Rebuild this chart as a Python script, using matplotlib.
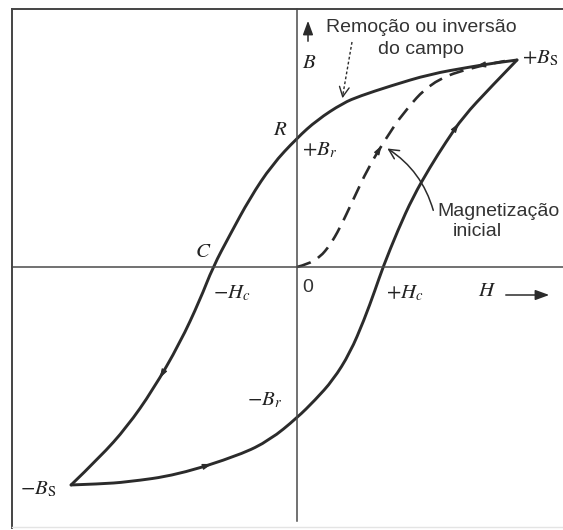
import numpy as np
import matplotlib
matplotlib.use('Agg')
import matplotlib.pyplot as plt
from matplotlib.lines import Line2D
from matplotlib.path import Path
from matplotlib.patches import PathPatch, FancyArrowPatch

plt.rcParams['mathtext.fontset'] = 'stix'
plt.rcParams['font.family'] = ['Liberation Sans', 'DejaVu Sans']

# hysteresis loop, H and B scaled so that +Bs sits at (1, 1)
# branch coming down from +Bs (field removed / reversed)
desc_H = [1.000, 0.900, 0.786, 0.605, 0.423, 0.286, 0.209, 0.091, 0.000,
          -0.114, -0.214, -0.305, -0.382, -0.441, -0.532, -0.655, -0.773,
          -0.895, -1.027]
desc_B = [1.000, 0.986, 0.966, 0.932, 0.874, 0.826, 0.792, 0.710, 0.623,
          0.493, 0.333, 0.155, 0.000, -0.159, -0.367, -0.594, -0.773,
          -0.918, -1.053]
# branch going back up from -Bs
asc_H = [-1.027, -0.895, -0.773, -0.545, -0.259, -0.123, 0.000, 0.082,
         0.164, 0.241, 0.305, 0.355, 0.391, 0.459, 0.527, 0.605, 0.677,
         0.755, 0.877, 1.000]
asc_B = [-1.053, -1.048, -1.039, -1.005, -0.908, -0.836, -0.729, -0.643,
         -0.546, -0.415, -0.256, -0.111, 0.000, 0.179, 0.338, 0.483, 0.604,
         0.725, 0.865, 1.000]
# initial magnetization curve (dashed)
init_H = [0.000, 0.050, 0.105, 0.150, 0.195, 0.255, 0.323, 0.400, 0.482,
          0.605, 0.773, 0.945]
init_B = [0.000, 0.014, 0.048, 0.106, 0.188, 0.324, 0.478, 0.614, 0.744,
          0.889, 0.961, 0.995]

Bs = (desc_H[0], desc_B[0])
Bs_neg = (asc_H[0], asc_B[0])
Br = (0.0, desc_B[desc_H.index(0.0)])
Br_neg = (0.0, asc_B[asc_H.index(0.0)])
Hc_neg = (desc_H[desc_B.index(0.0)], 0.0)
Hc = (asc_H[asc_B.index(0.0)], 0.0)

W, H = 563, 530
fig = plt.figure(figsize=(W / 100, H / 100), dpi=100)
ax = fig.add_axes([0, 0, 1, 1])
ax.set_xlim(-297 / 220, (W - 297) / 220)
ax.set_ylim(-(H - 267) / 207, 267 / 207)
ax.axis('off')


def fx(x):
    return x / W


def fy(y):
    return 1 - y / H


ink = '#2b2b2b'
frame = '#444444'

# frame around the diagram
fig.add_artist(Line2D([fx(12), fx(12)], [fy(9), fy(528)], color=frame, lw=1.4))
fig.add_artist(Line2D([fx(12), fx(W)], [fy(9), fy(9)], color=frame, lw=1.4))
fig.add_artist(Line2D([fx(12), fx(W)], [fy(527), fy(527)], color='#e4e4e4', lw=1.0))

# H and B axes
ax.axhline(0, xmin=fx(12), xmax=1, color='#4a4a4a', lw=1.1)
ax.axvline(0, ymin=1 - fy(9), ymax=fy(9), color='#4a4a4a', lw=1.1)


def smooth(xs, ys, **kw):
    # quadratic bezier through the midpoints, points act as control points
    pts = list(zip(xs, ys))
    verts = [pts[0]]
    codes = [Path.MOVETO]
    for i in range(1, len(pts) - 1):
        mid = ((pts[i][0] + pts[i + 1][0]) / 2, (pts[i][1] + pts[i + 1][1]) / 2)
        if i == len(pts) - 2:
            mid = pts[-1]
        verts += [pts[i], mid]
        codes += [Path.CURVE3, Path.CURVE3]
    ax.add_patch(PathPatch(Path(verts, codes), fill=False, **kw))


# loop and initial curve
smooth(desc_H, desc_B, edgecolor=ink, lw=2.1, capstyle='round')
smooth(asc_H, asc_B, edgecolor=ink, lw=2.1, capstyle='round')
smooth(init_H, init_B, edgecolor=ink, lw=1.9, ls=(0, (5.5, 3.2)))


def head(xs, ys, i, frac=0.5):
    # small arrowhead on segment i -> i+1 of a curve
    x0, y0, x1, y1 = xs[i], ys[i], xs[i + 1], ys[i + 1]
    mx, my = x0 + frac * (x1 - x0), y0 + frac * (y1 - y0)
    dx, dy = (x1 - x0) * 0.05, (y1 - y0) * 0.05
    ax.annotate('', xy=(mx + dx, my + dy), xytext=(mx - dx, my - dy),
                arrowprops=dict(arrowstyle='-|>,head_length=0.55,head_width=0.18',
                                color=ink, lw=0.8, shrinkA=0, shrinkB=0))


head(desc_H, desc_B, 1, 0.7)
head(desc_H, desc_B, 14, 0.7)
head(asc_H, asc_B, 3, 0.5)
head(asc_H, asc_B, 16, 0.7)
head(init_H, init_B, 6, 0.75)

# point labels
serif = dict(fontsize=15, color='#222222')
ax.annotate(r'$+B_{\mathrm{S}}$', Bs, xytext=(5, -3), textcoords='offset pixels',
            ha='left', va='baseline', **serif)
ax.annotate(r'$-B_{\mathrm{S}}$', Bs_neg, xytext=(-51, -9), textcoords='offset pixels',
            ha='left', va='baseline', **serif)
ax.annotate(r'$R$', Br, xytext=(-17, 9), textcoords='offset pixels',
            ha='center', va='center', **serif)
ax.annotate(r'$+B_r$', Br, xytext=(5, -17), textcoords='offset pixels',
            ha='left', va='baseline', **serif)
ax.annotate(r'$-B_r$', Br_neg, xytext=(-50, 13), textcoords='offset pixels',
            ha='left', va='baseline', **serif)
ax.annotate(r'$C$', Hc_neg, xytext=(-10, 15), textcoords='offset pixels',
            ha='center', va='center', **serif)
ax.annotate(r'$-H_c$', Hc_neg, xytext=(0, -31), textcoords='offset pixels',
            ha='left', va='baseline', **serif)
ax.annotate(r'$+H_c$', Hc, xytext=(3, -31), textcoords='offset pixels',
            ha='left', va='baseline', **serif)
ax.annotate('0', (0, 0), xytext=(11, -21), textcoords='offset pixels',
            ha='center', va='center', fontsize=14, color='#333333')

# axis names with their arrows
fig.text(fx(487), fy(291), r'$H$', ha='center', va='center', **serif)
fig.add_artist(FancyArrowPatch(
    (fx(503), fy(295)), (fx(552), fy(295)), transform=fig.transFigure,
    arrowstyle='-|>,head_length=0.6,head_width=0.22', mutation_scale=14,
    color=ink, lw=1.1))
fig.text(fx(309), fy(63), r'$B$', ha='center', va='center', **serif)
fig.add_artist(FancyArrowPatch(
    (fx(308), fy(44)), (fx(308), fy(18)), transform=fig.transFigure,
    arrowstyle='-|>,head_length=0.6,head_width=0.22', mutation_scale=14,
    color=ink, lw=1.1))

# notes
sans = dict(fontsize=14, color='#333333')
fig.text(fx(421), fy(27), 'Remoção ou inversão', ha='center', va='center', **sans)
fig.text(fx(421), fy(50), 'do campo', ha='center', va='center', **sans)
fig.add_artist(Line2D([fx(352), fx(343)], [fy(42), fy(94)], color=ink, lw=1.0,
                      ls=(0, (2, 1.6))))
fig.add_artist(FancyArrowPatch(
    (fx(343.5), fy(92)), (fx(342), fy(101)), transform=fig.transFigure,
    arrowstyle='->,head_length=0.5,head_width=0.25', mutation_scale=14,
    color=ink, lw=1.0))

fig.text(fx(437), fy(211), 'Magnetização', ha='left', va='center', **sans)
fig.text(fx(453), fy(232), 'inicial', ha='left', va='center', **sans)
fig.add_artist(FancyArrowPatch(
    (fx(434), fy(213)), (fx(385), fy(147)), transform=fig.transFigure,
    connectionstyle='arc3,rad=0.2',
    arrowstyle='->,head_length=0.5,head_width=0.25', mutation_scale=14,
    color=ink, lw=1.1))

fig.savefig('out.png', dpi=100, facecolor='white')
